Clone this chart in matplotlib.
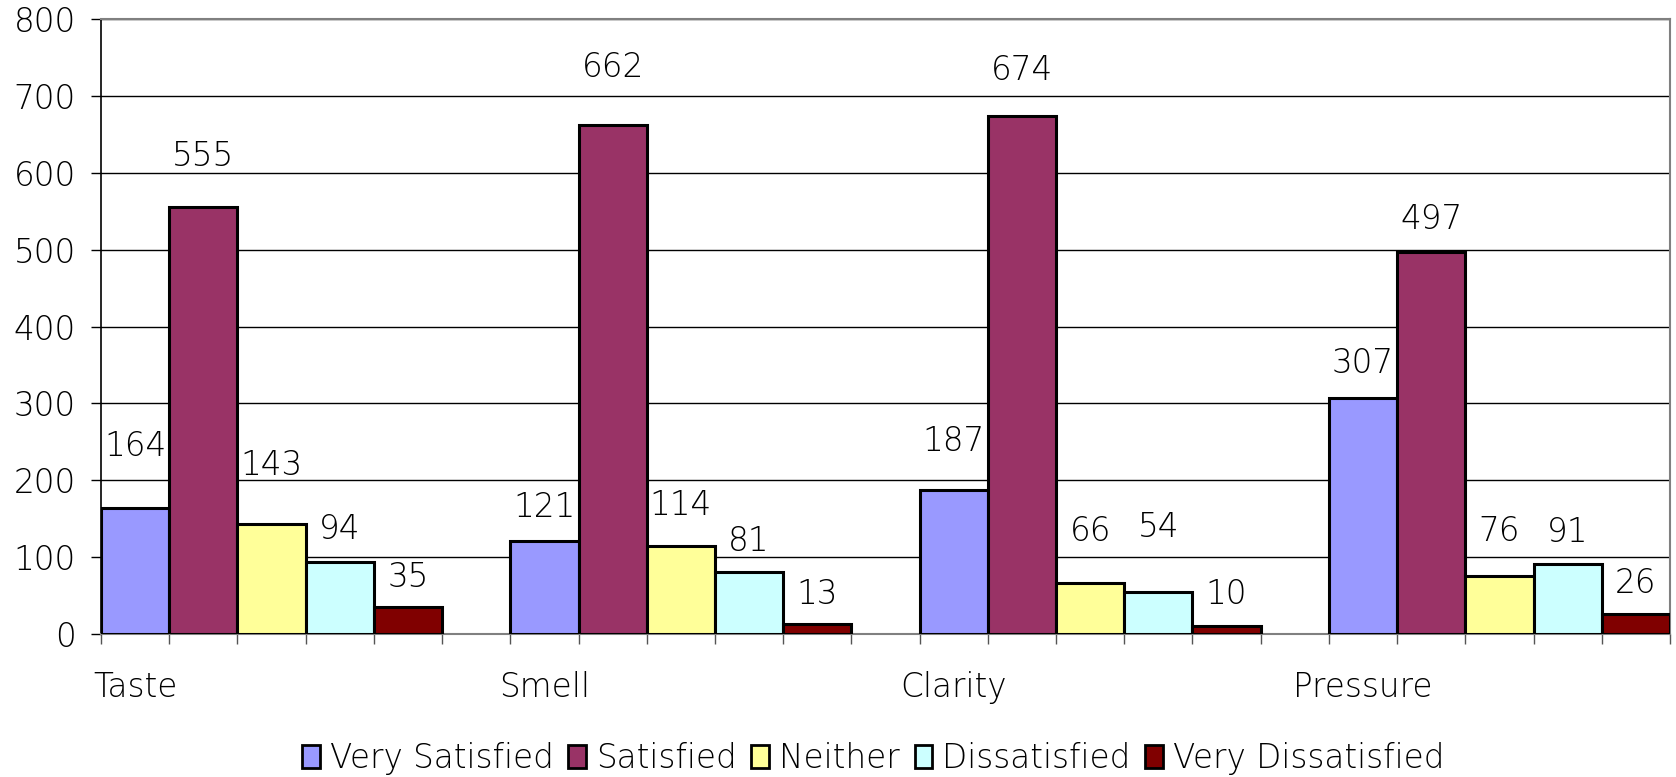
import matplotlib
matplotlib.use("Agg")
import matplotlib.pyplot as plt
from matplotlib.patches import Patch
from matplotlib.transforms import offset_copy

categories = ["Taste", "Smell", "Clarity", "Pressure"]
series_names = ["Very Satisfied", "Satisfied", "Neither", "Dissatisfied", "Very Dissatisfied"]
very_satisfied = [164, 121, 187, 307]
satisfied = [555, 662, 674, 497]
neither = [143, 114, 66, 76]
dissatisfied = [94, 81, 54, 91]
very_dissatisfied = [35, 13, 10, 26]
y_ticks = [0, 100, 200, 300, 400, 500, 600, 700, 800]

series = [very_satisfied, satisfied, neither, dissatisfied, very_dissatisfied]
colors = ["#9999FF", "#993366", "#FFFF99", "#CCFFFF", "#800000"]

# how far (px) each value label sits above its bar
label_lift = [
    [61, 33, 49, 34],
    [51, 58, 45, 32],
    [59, 41, 52, 44],
    [32, 30, 65, 32],
    [30, 30, 32, 31],
]

plt.rcParams["font.family"] = ["DejaVu Sans"]
FS = 23.5

fig = plt.figure(figsize=(16.76, 7.77), dpi=100)
ax = fig.add_axes([101 / 1676, 143 / 777, 1569 / 1676, 615 / 777])

slot = len(series) + 1  # five bars plus one empty slot per group
for s, (vals, col) in enumerate(zip(series, colors)):
    for c, v in enumerate(vals):
        x = c * slot + s + 0.5
        ax.bar(x, v, width=1.0, color=col, edgecolor="black", linewidth=2.2, zorder=3)
        tr = offset_copy(ax.transData, fig=fig, x=0, y=label_lift[s][c], units="dots")
        ax.text(x, v, str(v), transform=tr, ha="center", va="center", fontsize=FS,
                fontweight="light", zorder=4)

n_slots = len(categories) * slot - 1
ax.set_xlim(0, n_slots)
ax.set_ylim(0, 800)
ax.set_yticks(y_ticks)
ax.set_xticks(range(n_slots + 1))
ax.set_xticklabels([])
ax.tick_params(axis="y", length=7, width=1, labelsize=FS, pad=11)
ax.tick_params(axis="x", length=7, width=1, color="#555555")
for lbl in ax.get_yticklabels():
    lbl.set_fontweight("light")
ax.yaxis.grid(True, color="black", linewidth=1, zorder=0)
ax.set_axisbelow(True)

for side in ["top", "right", "bottom"]:
    ax.spines[side].set_color("#808080")
    ax.spines[side].set_linewidth(1.5)
ax.spines["left"].set_color("black")
ax.spines["left"].set_linewidth(1.2)

for c, name in enumerate(categories):
    ax.text(c * slot + 0.5, -0.087, name, transform=ax.get_xaxis_transform(),
            ha="center", va="center", fontsize=FS, fontweight="light")

handles = [Patch(facecolor=col, edgecolor="black", linewidth=2) for col in colors]
fig.legend(handles, series_names, loc="center", bbox_to_anchor=(0.521, 0.024),
           ncol=5, frameon=False, prop={"size": FS, "weight": "light"},
           handlelength=0.55, handleheight=0.75,
           handletextpad=0.3, columnspacing=0.45, borderpad=0)

fig.savefig("out.png", dpi=100)
